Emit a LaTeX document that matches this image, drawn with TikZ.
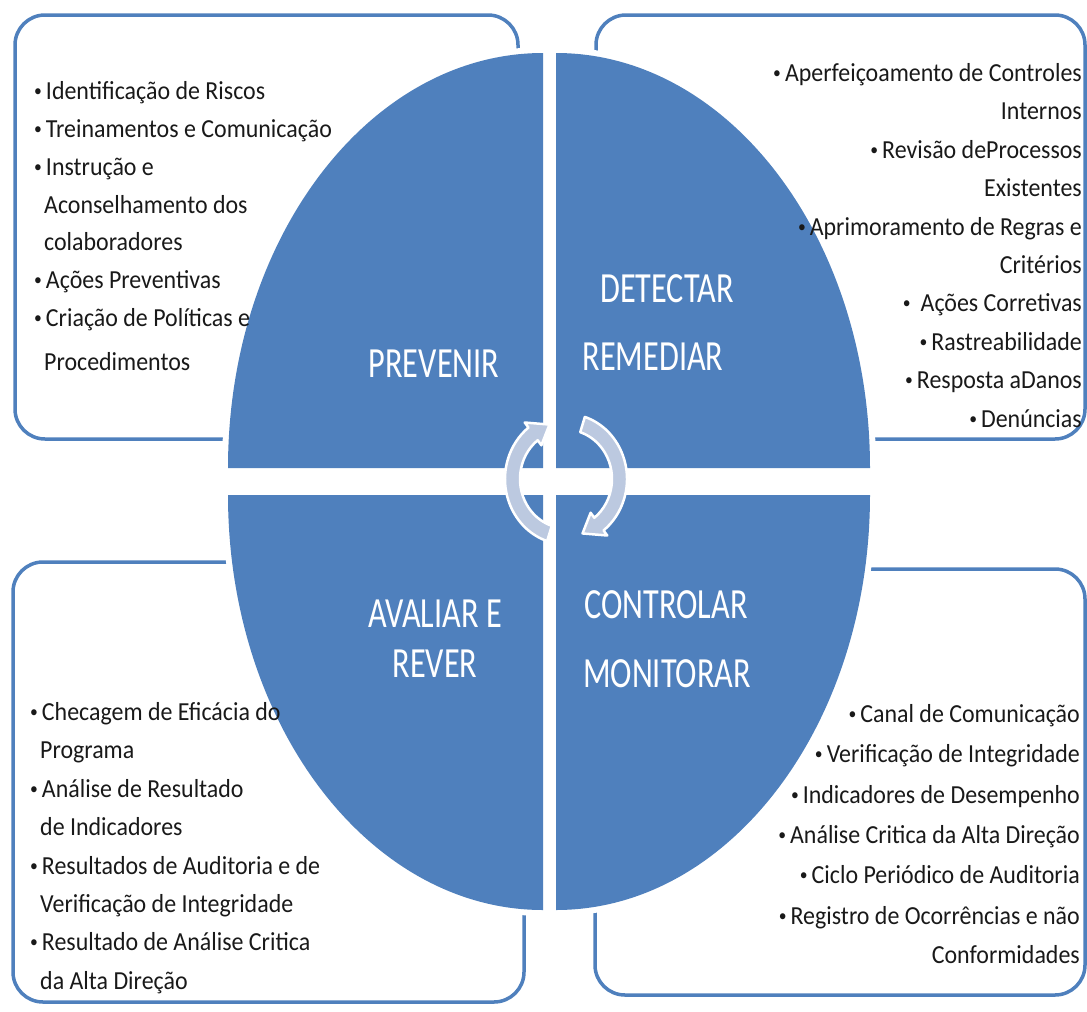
\documentclass[tikz,border=0pt]{standalone}
\usepackage{fontspec}
\setmainfont{Carlito}[FakeStretch=0.92]
\newfontfamily\phasefont{Carlito}[FakeStretch=0.75]
\definecolor{wheelblue}{RGB}{79,128,189}
\definecolor{cyclefill}{RGB}{188,201,224}
\definecolor{itemtext}{RGB}{25,25,25}
\tikzset{
  quarter/.style={fill=wheelblue, preaction={draw=white, line width=12pt}},
  listframe/.style={draw=wheelblue, line width=3.5pt, rounded corners=30pt},
  phase/.style={text=white, font=\phasefont\fontsize{43}{43}\selectfont, anchor=base, inner sep=0pt},
  listitem/.style={text=itemtext, font=\fontsize{26}{30}\selectfont, inner sep=0pt},
  cyclearrow/.style={fill=cyclefill, draw=white, line width=2.5pt, line join=round}
}
\newcommand*{\itembullet}{\raisebox{2.5pt}{\fontsize{17}{17}\selectfont•}\hspace{4pt}}
\newcommand*{\ListLines}[2]{% #1 = anchor, #2 = list of x/y/text
\foreach \x/\y/\txt in {#2} {
\node (line-\y) [listitem, anchor=#1] at (\x,\y) {\txt};
}%
}

\begin{document}
\begin{tikzpicture}[x=1pt, y=-1pt]
    \useasboundingbox (0,0) rectangle (1087,1012);

    % frames behind the wheel
    \draw[listframe] (15,15) rectangle (518,439);
    \draw[listframe] (596,15) rectangle (1085,439);
    \draw[listframe] (13,562) rectangle (524,1002);
    \draw[listframe] (595,569) rectangle (1085,995);

    % the four quarters
    \fill[quarter] (543,468) -- (228,468) arc[start angle=180, end angle=270, x radius=315, y radius=415] -- cycle;
    \fill[quarter] (556,468) -- (556,53) arc[start angle=270, end angle=360, x radius=314, y radius=415] -- cycle;
    \fill[quarter] (556,495) -- (870,495) arc[start angle=0, end angle=90, x radius=314, y radius=415] -- cycle;
    \fill[quarter] (543,495) -- (543,910) arc[start angle=90, end angle=180, x radius=315, y radius=415] -- cycle;

    % cycle arrows
    \begin{scope}[shift={(566,479)}, yscale=1.07]
        \path[cyclearrow] (-72:61) arc[start angle=-72, end angle=52, radius=61] -- (52:67) -- (72:53.5)
            -- (52:40) -- (52:46) arc[start angle=52, end angle=-72, radius=46] -- cycle;
        \path[cyclearrow] (108:61) arc[start angle=108, end angle=232, radius=61] -- (232:67) -- (252:53.5)
            -- (232:40) -- (232:46) arc[start angle=232, end angle=108, radius=46] -- cycle;
    \end{scope}

    \node (prevenir) [phase] at (434,377) {PREVENIR};
    \node (detectar) [phase] at (667,302) {DETECTAR};
    \node (remediar) [phase] at (653,370) {REMEDIAR};
    \node (avaliar) [phase] at (435,627) {AVALIAR E};
    \node (rever) [phase] at (435,677) {REVER};
    \node (controlar) [phase] at (666,618) {CONTROLAR};
    \node (monitorar) [phase] at (667,687) {MONITORAR};

    \ListLines{base west}{34/99/{\itembullet Identificação de Riscos}, 34/137/{\itembullet Treinamentos e Comunicação},
        34/175/{\itembullet Instrução e}, 44/213/{Aconselhamento dos}, 44/250/{colaboradores},
        34/288/{\itembullet Ações Preventivas}, 34/326/{\itembullet Criação de Políticas e}, 44/370/{Procedimentos}}
    \ListLines{base east}{1082/81/{\itembullet Aperfeiçoamento de Controles}, 1082/119/{Internos},
        1082/158/{\itembullet Revisão deProcessos}, 1082/196/{Existentes},
        1082/235/{\itembullet Aprimoramento de Regras e}, 1082/273/{Critérios},
        1082/311/{\itembullet\hspace{6pt}Ações Corretivas}, 1082/350/{\itembullet Rastreabilidade},
        1082/388/{\itembullet Resposta aDanos}, 1082/427/{\itembullet Denúncias}}
    \ListLines{base west}{30/720/{\itembullet Checagem de Eficácia do}, 40/758/{Programa},
        30/797/{\itembullet Análise de Resultado}, 40/835/{de Indicadores},
        30/874/{\itembullet Resultados de Auditoria e de}, 40/912/{Verificação de Integridade},
        30/950/{\itembullet Resultado de Análise Critica}, 40/989/{da Alta Direção}}
    \ListLines{base east}{1080/722/{\itembullet Canal de Comunicação}, 1080/762/{\itembullet Verificação de Integridade},
        1080/803/{\itembullet Indicadores de Desempenho}, 1080/843/{\itembullet Análise Critica da Alta Direção},
        1080/883/{\itembullet Ciclo Periódico de Auditoria}, 1080/924/{\itembullet Registro de Ocorrências e não},
        1080/963/{Conformidades}}
\end{tikzpicture}
\end{document}
